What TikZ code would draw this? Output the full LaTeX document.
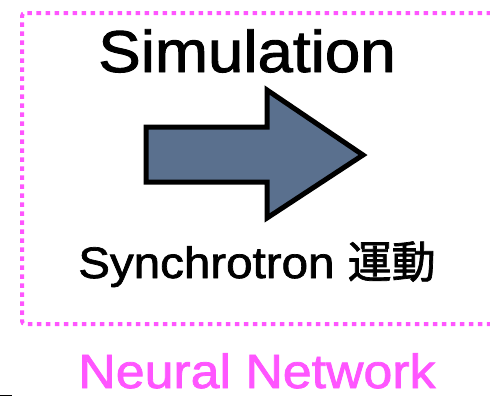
\documentclass[tikz,border=0pt]{standalone}
\usepackage{fontspec}
\setmainfont{Liberation Sans}
\newfontfamily\widesans[FakeStretch=1.08, FakeBold=1.6]{Liberation Sans}
\newfontfamily\jpfont[FakeBold=1.6]{Noto Sans CJK JP}
\usepackage{tikz}

\definecolor{nnpink}{RGB}{255,85,255}
\definecolor{arrowblue}{RGB}{90,112,142}

\begin{document}
\begin{tikzpicture}[x=1pt,y=-1pt]
				\useasboundingbox (0,0) rectangle (490,397);
				% dotted frame, open on the right
				\draw[nnpink, line width=4pt, dash pattern=on 4.5pt off 4.5pt, rounded corners=3pt]
					(500,13) -- (22,13) -- (22,324) -- (500,324);
				\node[anchor=base, inner sep=0pt, font=\widesans\fontsize{59}{61}\selectfont] (sim) at (247,72) {Simulation};
				\node[anchor=base, inner sep=0pt, font=\widesans\fontsize{44}{46}\selectfont] (sync) at (257,278) {Synchrotron {\jpfont 運動}};
				\node[anchor=base, inner sep=0pt, text depth=0pt, text=nnpink, font=\widesans\fontsize{48}{50}\selectfont] (nn) at (257,388) {Neural Network};
				% block arrow
				\draw[line width=5pt, line join=miter, fill=arrowblue]
					(146,127) -- (267,127) -- (267,90) -- (363,155) -- (267,218) -- (267,182) -- (146,182) -- cycle;
				\draw[line width=1pt] (0,395) -- (12,395);
			\end{tikzpicture}
\end{document}
